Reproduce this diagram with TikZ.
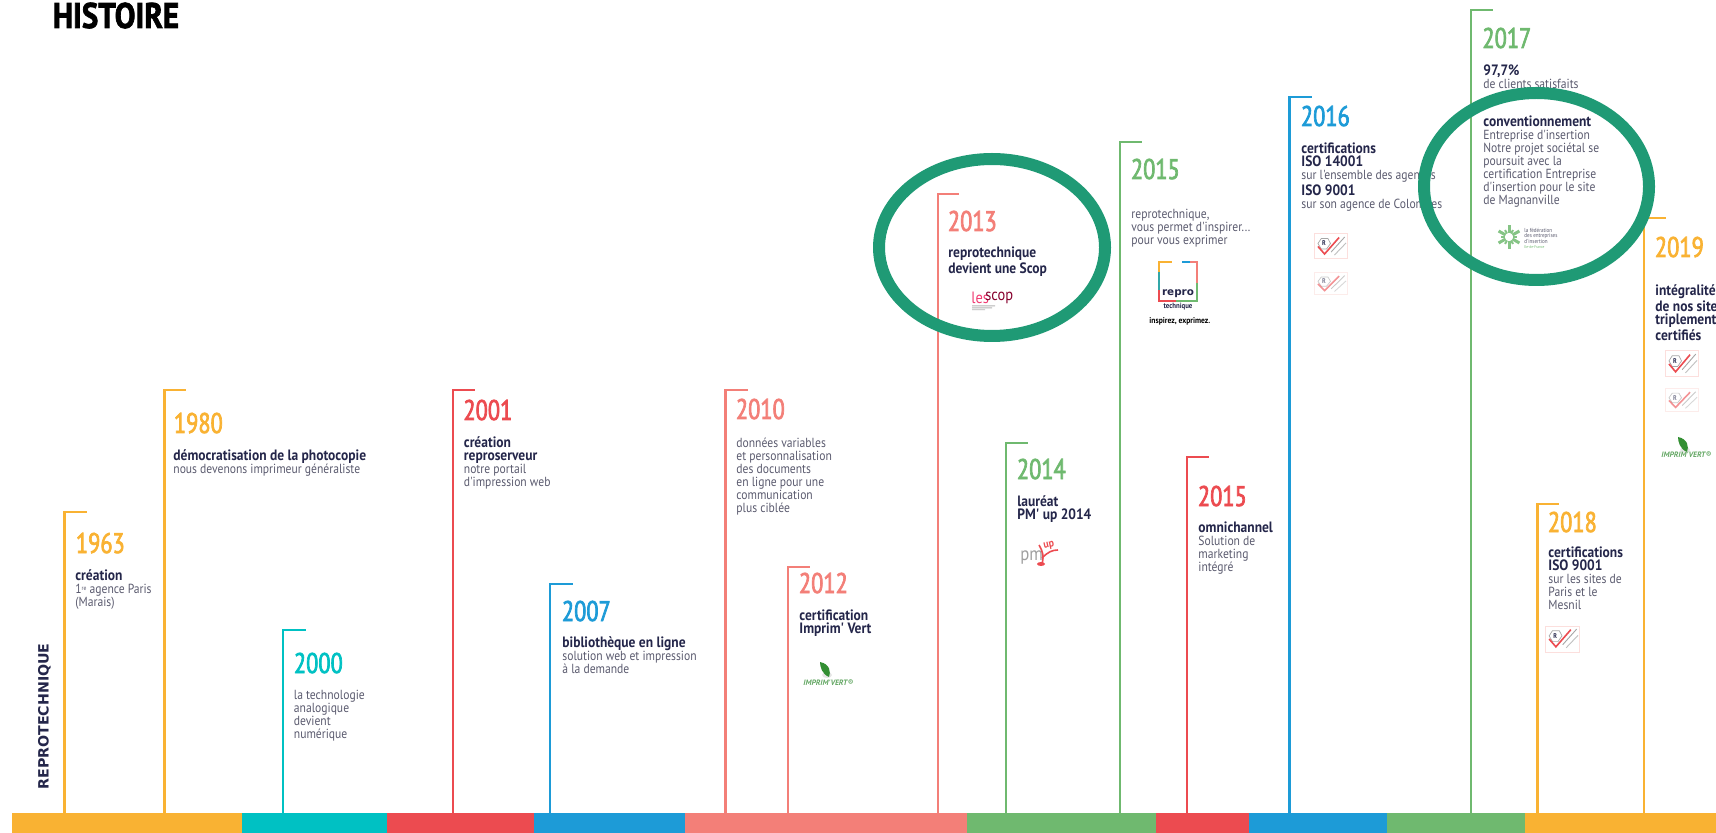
\documentclass[tikz,border=0pt]{standalone}
\usepackage{fontspec}
\usetikzlibrary{calc}
\setmainfont{PT Sans}
\newfontfamily\yearfont[FakeStretch=0.79,FakeBold=2.5]{PT Sans}
\newfontfamily\bodyfont[FakeStretch=0.88]{PT Sans}
\newfontfamily\boldfont[FakeStretch=0.90]{PT Sans Bold}
\newfontfamily\titlefont[FakeStretch=0.87,FakeBold=2]{PT Sans Bold}
\newfontfamily\widefont{DejaVu Sans Bold}
\newfontfamily\logofont{PT Sans}
\definecolor{corange}{HTML}{F9B233}
\definecolor{cteal}{HTML}{00C1C3}
\definecolor{cred}{HTML}{EC4B50}
\definecolor{cblue}{HTML}{1D9BD7}
\definecolor{csalmon}{HTML}{F37F78}
\definecolor{cgreen}{HTML}{6FB96F}
\definecolor{cring}{HTML}{1F9A75}
\definecolor{cdark}{HTML}{24264A}
\definecolor{cgray}{HTML}{5A5A6E}
\tikzset{
  x=0.5pt,y=-0.5pt,
  stem/.style={line width=1.4pt,line cap=butt,line join=miter},
  yeartext/.style={anchor=base west,inner sep=0,font=\yearfont\fontsize{14.2pt}{14pt}\selectfont},
  desc/.style={anchor=north west,inner sep=0,align=left,text=cdark,font=\fontsize{6.6pt}{6.55pt}\selectfont},
  ring/.style={draw=cring,line width=6pt},
  tinytext/.style={inner sep=0,anchor=base west},
}
\newcommand{\bo}[1]{{\boldfont\fontsize{7.5pt}{6.55pt}\selectfont\color{cdark}#1}}
\newcommand{\bd}[1]{{\bodyfont\color{cgray}#1}}
\newcommand{\hs}{\rule{0pt}{6pt}}
% name, x stem, y top, x end, colour, year, x year, baseline
\newcommand{\milestone}[8]{%
  \coordinate (#1b) at (#2,813);
  \coordinate (#1t) at (#2,#3);
  \coordinate (#1e) at (#4,#3);
  \draw[stem,#5] (#1b) -- (#1t) -- (#1e);
  \node[yeartext,text=#5] (#1y) at (#7,#8) {#6};
}
% name, x, first baseline, content
\newcommand{\desctext}[4]{\node[desc] (#1) at (#2,#3-12) {\lineskiplimit=-5pt \hs #4};}
\newcommand{\barseg}[4]{\fill[#4] (#2,813) rectangle (#3,833) coordinate (#1);}
% name, x0, y0, x1, y1, opacity
\newcommand{\certlogo}[6]{%
  \begin{scope}[opacity=#6]
  \draw[draw=csalmon!25,line width=0.5pt,fill=white] (#2,#3) rectangle (#4,#5);
  \begin{scope}[shift={(#2,#3)},x={(#4*0.5pt-#2*0.5pt,0)},y={(0,#3*0.5pt-#5*0.5pt)}]
    \draw[gray!70,line width=0.35pt] (0.12,0.38) -- (0.22,0.18) -- (0.42,0.18) -- (0.50,0.38) -- (0.38,0.60) -- (0.22,0.60) -- cycle;
    \draw[gray!70,line width=0.45pt] (0.52,0.72) -- (0.93,0.12);
    \draw[gray!50,line width=0.45pt] (0.62,0.84) -- (0.97,0.36);
    \draw[cred,line width=0.8pt] (0.12,0.50) -- (0.32,0.80) -- (0.76,0.14);
    \node[inner sep=0,font=\boldfont\fontsize{3.4pt}{3.4pt}\selectfont,text=cdark] (#1r) at (0.30,0.38) {R};
  \end{scope}
  \end{scope}
}
% name, leaf x, leaf y, text x, baseline
\newcommand{\vertlogo}[5]{%
  \fill[gray!20] (#2+2,#3+5) ellipse[x radius=5,y radius=3];
  \fill[green!45!black!80] (#2-5,#3-8) .. controls (#2+5,#3-6) and (#2+6,#3+2) .. (#2+4,#3+7) .. controls (#2-3,#3+4) and (#2-5,#3-3) .. (#2-5,#3-8) -- cycle;
  \node[tinytext,text=cgreen!90!black,font=\logofont\bfseries\itshape\fontsize{3.9pt}{4.5pt}\selectfont] (#1) at (#4,#5) {IMPRIM'VERT®};
}
\begin{document}
\begin{tikzpicture}
\useasboundingbox (0,0) rectangle (1716,833);
\node[anchor=base west,inner sep=0,text=black,font=\titlefont\fontsize{17.8pt}{18pt}\selectfont] (title) at (52.5,28) {HISTOIRE};
\node[rotate=90,anchor=base west,inner sep=0,text=cdark,font=\widefont\fontsize{7.1pt}{8pt}\selectfont] (side) at (48.5,790) {REPROTECHNIQUE};

% stems and years
\milestone{a}{64.6}{512}{87}{corange}{1963}{75.5}{553}
\milestone{b}{164.6}{390}{186}{corange}{1980}{173.5}{433}
\milestone{c}{283}{630}{306}{cteal}{2000}{293.5}{673}
\milestone{d}{453}{390}{475}{cred}{2001}{463}{420}
\milestone{e}{550}{584}{573}{cblue}{2007}{561.5}{621}
\milestone{f}{725.7}{390}{748}{csalmon}{2010}{735.5}{419}
\milestone{g}{788}{567}{810}{csalmon}{2012}{798.5}{593}
\milestone{h}{938}{194}{959}{csalmon}{2013}{947.5}{231}
\milestone{i}{1006}{443}{1028}{cgreen}{2014}{1016.5}{479}
\milestone{j}{1120}{142}{1142}{cgreen}{2015}{1130.5}{179}
\milestone{k}{1187}{457}{1209}{cred}{2015}{1197.5}{506}
\milestone{l}{1289.5}{97}{1312}{cblue}{2016}{1300.5}{126}
\milestone{m}{1471}{10}{1493}{cgreen}{2017}{1482}{48}
\milestone{n}{1537.5}{504}{1559}{corange}{2018}{1547.5}{532}
\milestone{o}{1644}{218}{1666}{corange}{2019}{1654.5}{257}

% base band
\barseg{s1}{12}{242}{corange}
\barseg{s2}{242}{387}{cteal}
\barseg{s3}{387}{534}{cred}
\barseg{s4}{534}{685}{cblue}
\barseg{s5}{685}{967}{csalmon}
\barseg{s6}{967}{1156}{cgreen}
\barseg{s7}{1156}{1249}{cred}
\barseg{s8}{1249}{1387}{cblue}
\barseg{s9}{1387}{1525}{cgreen}
\barseg{s10}{1525}{1716}{corange}

% texts
\desctext{ta}{75}{580}{\bo{création}\\\bd{1\raisebox{1.3pt}{\fontsize{3.2pt}{3.2pt}\selectfont re} agence Paris}\\\bd{(Marais)}}
\desctext{tb}{173}{460}{\bo{démocratisation de la photocopie}\\\bd{nous devenons imprimeur généraliste}}
\desctext{tc}{293.5}{699}{\bd{la technologie}\\\bd{analogique}\\\bd{devient}\\\bd{numérique}}
\desctext{td}{463.5}{447}{\bo{création}\\\bo{reproserveur}\\\bd{notre portail}\\\bd{d'impression web}}
\desctext{te}{562}{647}{\bo{bibliothèque en ligne}\\\bd{solution web et impression}\\\bd{à la demande}}
\desctext{tf}{736}{447}{\bd{données variables}\\\bd{et personnalisation}\\\bd{des documents}\\\bd{en ligne pour une}\\\bd{communication}\\\bd{plus ciblée}}
\desctext{tg}{799}{620}{\bo{certification}\\\bo{Imprim' Vert}}
\desctext{th}{948}{257}{\bo{reprotechnique}\\\bo{devient une Scop}}
\desctext{ti}{1017}{506}{\bo{lauréat}\\\bo{PM' up 2014}}
\desctext{tj}{1131}{218}{\bd{reprotechnique,}\\\bd{vous permet d'inspirer...}\\\bd{pour vous exprimer}}
\desctext{tk}{1198}{532}{\bo{omnichannel}\\\bd{Solution de}\\\bd{marketing}\\\bd{intégré}}
\desctext{tl}{1301}{153}{\bo{certifications}\\\bo{ISO 14001}\\\bd{sur l'ensemble des agences}\\\bo{ISO 9001}\\\bd{sur son agence de Colombes}}
\desctext{tm}{1483}{75}{\bo{97,7\%}\\\bd{de clients satisfaits}}
\desctext{tm2}{1483}{126}{\bo{conventionnement}\\\bd{Entreprise d'insertion}\\\bd{Notre projet sociétal se}\\\bd{poursuit avec la}\\\bd{certification Entreprise}\\\bd{d'insertion pour le site}\\\bd{de Magnanville}}
\desctext{tn}{1548}{557}{\bo{certifications}\\\bo{ISO 9001}\\\bd{sur les sites de}\\\bd{Paris et le}\\\bd{Mesnil}}
\desctext{to}{1655}{295}{\bo{intégralité}\\\bo{de nos site}\\\bo{triplement}\\\bo{certifiés}}

% les scop logo
\node[tinytext,text=cred!80!magenta,font=\bodyfont\fontsize{8.2pt}{9pt}\selectfont] (lesw) at (971,304) {les};
\node[tinytext,text=black!30!purple,font=\bodyfont\fontsize{8.2pt}{9pt}\selectfont] (scopw) at (985,301) {scop};
\fill[gray!60] (972,305.5) rectangle (995,306.3) (972,307.5) rectangle (992,308.3) (972,309.5) rectangle (985,310.2);

% repro logo
\coordinate (rA) at (1159,262); \coordinate (rB) at (1197,262);
\coordinate (rC) at (1197,301); \coordinate (rD) at (1159,301);
\begin{scope}[line width=0.8pt]
\draw[corange] (1159,272) -- (rA) -- (1172,262);
\draw[cblue] (1182,262) -- (1190,262);
\draw[csalmon] (1190,262) -- (rB) -- (1197,283);
\draw[cgreen] (1197,283) -- (rC) -- (1176,301);
\draw[cred] (1176,301) -- (rD) -- (1159,290);
\draw[cteal!60!gray] (1159,272) -- (1159,290);
\end{scope}
\node[inner sep=0,anchor=base,text=cdark,font=\widefont\fontsize{5.2pt}{7pt}\selectfont] (repro) at (1178,296) {repro};
\node[inner sep=0,anchor=base,text=cdark,font=\boldfont\fontsize{3.8pt}{4pt}\selectfont] (techn) at (1178,309) {technique};
\node[inner sep=0,anchor=base west,text=black,font=\boldfont\fontsize{4.2pt}{4pt}\selectfont] (insp) at (1149,324) {inspirez, exprimez.};

% pm up logo
\node[tinytext,text=gray!75,font=\bodyfont\fontsize{9.5pt}{9.5pt}\selectfont] (pmw) at (1020,560) {pm};
\node[inner sep=0,text=cred,rotate=12,font=\boldfont\fontsize{5.5pt}{5.5pt}\selectfont] (upw) at (1049,546) {up};
\draw[cred,line width=0.8pt] (1039,545) .. controls (1043,552) and (1044,556) .. (1042,564);
\draw[cred,line width=0.8pt] (1042,558) .. controls (1048,552) and (1052,550) .. (1058,550);
\fill[cred] (1041,564) ellipse[x radius=4,y radius=2];

% certification marks
\certlogo{q1}{1314}{234}{1347}{259}{1}
\certlogo{q2}{1314}{273}{1347}{295}{0.6}
\certlogo{q3}{1545}{626}{1579}{652}{1}
\certlogo{q4}{1665}{351}{1698}{377}{1}
\certlogo{q5}{1665}{389}{1698}{412}{0.6}

% imprim vert logos
\vertlogo{v1}{825}{670}{803}{685}
\vertlogo{v2}{1683}{445}{1661}{458}

% federation logo
\foreach \a in {0,60,...,300}{
  \draw[cgreen!85,line width=1.5pt] ($(1509,237)+(\a+30:4)$) -- ($(1509,237)+(\a+30:12)$);
  \draw[cgreen!85,line width=1pt] ($(1509,237)+(\a:4)$) -- ($(1509,237)+(\a:8)$);
}
\node[inner sep=0,anchor=north west,align=left,text=cgray,font=\bodyfont\fontsize{2.9pt}{2.7pt}\selectfont] (fed) at (1524,228) {la fédération\\des entreprises\\d'insertion};
\node[inner sep=0,anchor=base west,text=cgreen,font=\bodyfont\fontsize{2pt}{2pt}\selectfont] (fedg) at (1524,248.5) {île-de-France};

% highlight rings
\draw[ring] (992,247.5) ellipse[x radius=113,y radius=88.5];
\draw[ring] (1536.5,186.5) ellipse[x radius=112.5,y radius=93.5];
\end{tikzpicture}
\end{document}
